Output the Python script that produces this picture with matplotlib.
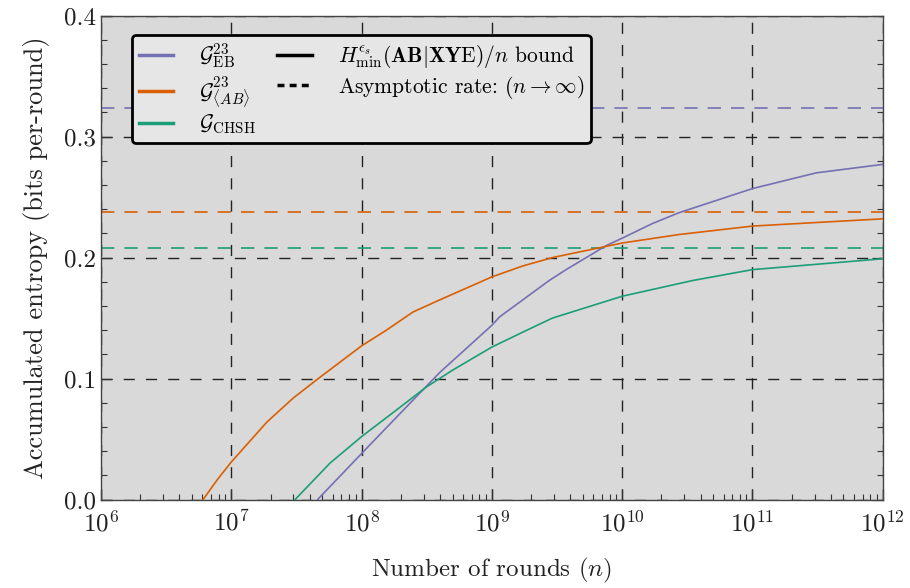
import numpy as np
import matplotlib
matplotlib.use("Agg")
import matplotlib.pyplot as plt
from matplotlib.lines import Line2D

plt.rcParams['font.family'] = ['cmr10', 'DejaVu Serif']
plt.rcParams['mathtext.fontset'] = 'cm'
plt.rcParams['axes.formatter.use_mathtext'] = True

# curves: log10(n) and entropy per round
eb_logn = [7.663, 8.0, 8.268, 8.51, 8.6, 9.0, 9.06, 9.44, 9.57, 9.88, 10.0,
           10.23, 10.435, 11.0, 11.49, 12.0]
eb_val = [0.0, 0.038, 0.068, 0.095, 0.105, 0.144, 0.151, 0.181, 0.190, 0.210,
          0.216, 0.228, 0.237, 0.257, 0.270, 0.277]

ab_logn = [6.784, 6.89, 7.0, 7.273, 7.477, 7.668, 8.0, 8.191, 8.395, 8.6, 9.0,
           9.236, 9.466, 10.0, 10.435, 11.0, 12.0]
ab_val = [0.0, 0.016, 0.031, 0.064, 0.084, 0.100, 0.127, 0.140, 0.155, 0.165,
          0.184, 0.193, 0.200, 0.212, 0.219, 0.226, 0.232]

chsh_logn = [7.49, 7.757, 8.0, 8.14, 8.268, 8.497, 8.70, 9.0, 9.25, 9.466,
             10.0, 10.54, 11.0, 12.0]
chsh_val = [0.0, 0.030, 0.052, 0.0635, 0.074, 0.093, 0.107, 0.126, 0.139, 0.150,
            0.168, 0.181, 0.190, 0.199]

# asymptotic rates
asym_eb = 0.324
asym_ab = 0.238
asym_chsh = 0.208

c_eb = '#7570b3'
c_ab = '#d95f02'
c_chsh = '#1b9e77'

fig = plt.figure(figsize=(9.1, 5.88), dpi=100)
ax = fig.add_axes([0.111, 0.1505, 0.859, 0.823])
ax.set_facecolor('#d9d9d9')

ax.plot(10 ** np.array(eb_logn), eb_val, color=c_eb, lw=1.2, zorder=3)
ax.plot(10 ** np.array(ab_logn), ab_val, color=c_ab, lw=1.2, zorder=3)
ax.plot(10 ** np.array(chsh_logn), chsh_val, color=c_chsh, lw=1.2, zorder=3)

for v, c in [(asym_eb, c_eb), (asym_ab, c_ab), (asym_chsh, c_chsh)]:
    ax.axhline(v, color=c, lw=1.2, ls=(0, (8, 6)), zorder=2)

ax.set_xscale('log')
ax.set_xlim(1e6, 1e12)
ax.set_ylim(0, 0.4)
ax.set_yticks([0.0, 0.1, 0.2, 0.3, 0.4])
ax.set_yticks(np.arange(0, 0.401, 0.02), minor=True)
ax.set_yticklabels(['0.0', '0.1', '0.2', '0.3', '0.4'])

ax.grid(True, which='major', color='#222222', lw=1.0, ls=(0, (8, 8)), zorder=1)
ax.tick_params(which='both', direction='in', top=False, right=True,
               labelsize=18, colors='#333333', labelcolor='#222222')
ax.tick_params(which='major', length=8, width=0.9)
ax.tick_params(which='minor', length=4, width=0.8)
ax.tick_params(axis='x', pad=8)
for s in ax.spines.values():
    s.set_color('#444444')
    s.set_linewidth(1.0)

ax.set_xlabel(r'Number of rounds $(n)$', fontsize=18, labelpad=14, color='#222222')
ax.set_ylabel(r'Accumulated entropy (bits per-round)', fontsize=19, labelpad=10, color='#222222')

handles = [
    Line2D([], [], color=c_eb, lw=2.5),
    Line2D([], [], color=c_ab, lw=2.5),
    Line2D([], [], color=c_chsh, lw=2.5),
    Line2D([], [], color='black', lw=2.5),
    Line2D([], [], color='black', lw=2.5, ls=(0, (2, 1.5))),
    Line2D([], [], color='none'),
]
labels = [
    r'$\mathcal{G}^{23}_{\rm EB}$',
    r'$\mathcal{G}^{23}_{\langle AB\rangle}$',
    r'$\mathcal{G}_{\rm CHSH}$',
    r'$H^{\epsilon_s}_{\rm min}(\mathbf{AB}|\mathbf{XY}\mathrm{E})/n$ bound',
    r'Asymptotic rate: $(n\to\infty)$',
    '',
]
leg = ax.legend(handles, labels, ncol=2, loc='upper left',
                bbox_to_anchor=(0.026, 0.982), fontsize=15.5,
                fancybox=True, framealpha=1.0, facecolor='#e6e6e6',
                edgecolor='black', handlelength=1.6, handletextpad=1.2,
                columnspacing=1.0, labelspacing=0.15, borderpad=0.3)
leg.get_frame().set_linewidth(2.0)
leg.set_zorder(5)

fig.savefig('out.png', dpi=100)
